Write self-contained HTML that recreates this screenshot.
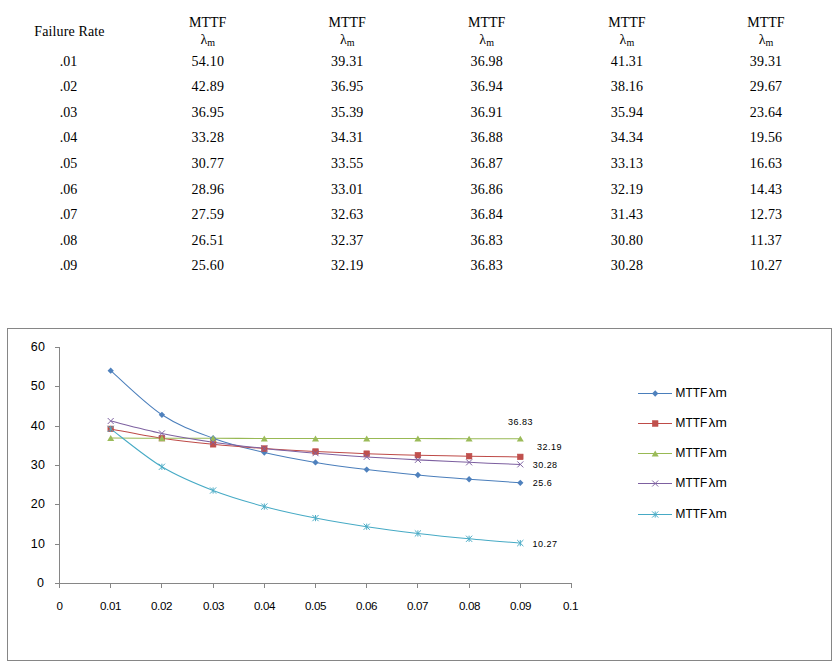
<!DOCTYPE html>
<html><head><meta charset="utf-8"><style>
html,body{margin:0;padding:0;background:#fff;}
body{width:837px;height:667px;position:relative;overflow:hidden;}
.c{position:absolute;width:139.45px;text-align:center;font-family:"Liberation Serif",serif;font-size:14px;line-height:14px;color:#000;white-space:nowrap;}
.n{letter-spacing:0.2px;}
.sub{font-size:10px;position:relative;top:2px;}
svg{position:absolute;left:0;top:0;}
.ay{font-family:"Liberation Sans",sans-serif;font-size:12.5px;fill:#000;letter-spacing:0.3px;}
.ax{font-family:"Liberation Sans",sans-serif;font-size:11.6px;fill:#000;letter-spacing:-0.45px;}
.dl{font-family:"Liberation Sans",sans-serif;font-size:9px;letter-spacing:0.45px;fill:#000;}
.lg{font-family:"Liberation Sans",sans-serif;font-size:13px;fill:#000;}
</style></head><body>
<div class="c" style="left:-0.22px;top:24.57px"><span style="letter-spacing:0.12px">Failure Rate</span></div>
<div class="c" style="left:138.03px;top:15.57px">MTTF</div>
<div class="c" style="left:138.03px;top:32.77px">&lambda;<span class="sub">m</span></div>
<div class="c" style="left:277.48px;top:15.57px">MTTF</div>
<div class="c" style="left:277.48px;top:32.77px">&lambda;<span class="sub">m</span></div>
<div class="c" style="left:416.92px;top:15.57px">MTTF</div>
<div class="c" style="left:416.92px;top:32.77px">&lambda;<span class="sub">m</span></div>
<div class="c" style="left:557.17px;top:15.57px">MTTF</div>
<div class="c" style="left:557.17px;top:32.77px">&lambda;<span class="sub">m</span></div>
<div class="c" style="left:696.22px;top:15.57px">MTTF</div>
<div class="c" style="left:696.22px;top:32.77px">&lambda;<span class="sub">m</span></div>
<div class="c" style="left:-1.22px;top:55.07px">.01</div>
<div class="c" style="left:138.12px;top:55.07px"><span class="n">54.10</span></div>
<div class="c" style="left:277.58px;top:55.07px"><span class="n">39.31</span></div>
<div class="c" style="left:417.02px;top:55.07px"><span class="n">36.98</span></div>
<div class="c" style="left:557.27px;top:55.07px"><span class="n">41.31</span></div>
<div class="c" style="left:696.32px;top:55.07px"><span class="n">39.31</span></div>
<div class="c" style="left:-1.22px;top:80.07px">.02</div>
<div class="c" style="left:138.12px;top:80.07px"><span class="n">42.89</span></div>
<div class="c" style="left:277.58px;top:80.07px"><span class="n">36.95</span></div>
<div class="c" style="left:417.02px;top:80.07px"><span class="n">36.94</span></div>
<div class="c" style="left:557.27px;top:80.07px"><span class="n">38.16</span></div>
<div class="c" style="left:696.32px;top:80.07px"><span class="n">29.67</span></div>
<div class="c" style="left:-1.22px;top:106.07px">.03</div>
<div class="c" style="left:138.12px;top:106.07px"><span class="n">36.95</span></div>
<div class="c" style="left:277.58px;top:106.07px"><span class="n">35.39</span></div>
<div class="c" style="left:417.02px;top:106.07px"><span class="n">36.91</span></div>
<div class="c" style="left:557.27px;top:106.07px"><span class="n">35.94</span></div>
<div class="c" style="left:696.32px;top:106.07px"><span class="n">23.64</span></div>
<div class="c" style="left:-1.22px;top:131.07px">.04</div>
<div class="c" style="left:138.12px;top:131.07px"><span class="n">33.28</span></div>
<div class="c" style="left:277.58px;top:131.07px"><span class="n">34.31</span></div>
<div class="c" style="left:417.02px;top:131.07px"><span class="n">36.88</span></div>
<div class="c" style="left:557.27px;top:131.07px"><span class="n">34.34</span></div>
<div class="c" style="left:696.32px;top:131.07px"><span class="n">19.56</span></div>
<div class="c" style="left:-1.22px;top:157.07px">.05</div>
<div class="c" style="left:138.12px;top:157.07px"><span class="n">30.77</span></div>
<div class="c" style="left:277.58px;top:157.07px"><span class="n">33.55</span></div>
<div class="c" style="left:417.02px;top:157.07px"><span class="n">36.87</span></div>
<div class="c" style="left:557.27px;top:157.07px"><span class="n">33.13</span></div>
<div class="c" style="left:696.32px;top:157.07px"><span class="n">16.63</span></div>
<div class="c" style="left:-1.22px;top:183.07px">.06</div>
<div class="c" style="left:138.12px;top:183.07px"><span class="n">28.96</span></div>
<div class="c" style="left:277.58px;top:183.07px"><span class="n">33.01</span></div>
<div class="c" style="left:417.02px;top:183.07px"><span class="n">36.86</span></div>
<div class="c" style="left:557.27px;top:183.07px"><span class="n">32.19</span></div>
<div class="c" style="left:696.32px;top:183.07px"><span class="n">14.43</span></div>
<div class="c" style="left:-1.22px;top:208.07px">.07</div>
<div class="c" style="left:138.12px;top:208.07px"><span class="n">27.59</span></div>
<div class="c" style="left:277.58px;top:208.07px"><span class="n">32.63</span></div>
<div class="c" style="left:417.02px;top:208.07px"><span class="n">36.84</span></div>
<div class="c" style="left:557.27px;top:208.07px"><span class="n">31.43</span></div>
<div class="c" style="left:696.32px;top:208.07px"><span class="n">12.73</span></div>
<div class="c" style="left:-1.22px;top:234.07px">.08</div>
<div class="c" style="left:138.12px;top:234.07px"><span class="n">26.51</span></div>
<div class="c" style="left:277.58px;top:234.07px"><span class="n">32.37</span></div>
<div class="c" style="left:417.02px;top:234.07px"><span class="n">36.83</span></div>
<div class="c" style="left:557.27px;top:234.07px"><span class="n">30.80</span></div>
<div class="c" style="left:696.32px;top:234.07px"><span class="n">11.37</span></div>
<div class="c" style="left:-1.22px;top:259.07px">.09</div>
<div class="c" style="left:138.12px;top:259.07px"><span class="n">25.60</span></div>
<div class="c" style="left:277.58px;top:259.07px"><span class="n">32.19</span></div>
<div class="c" style="left:417.02px;top:259.07px"><span class="n">36.83</span></div>
<div class="c" style="left:557.27px;top:259.07px"><span class="n">30.28</span></div>
<div class="c" style="left:696.32px;top:259.07px"><span class="n">10.27</span></div>
<svg width="837" height="667" viewBox="0 0 837 667">
<rect x="7.5" y="328.5" width="824" height="332" fill="#fff" stroke="#868686" stroke-width="1"/>
<path d="M59.5,347 V583.5 M59,583.5 H572" stroke="#868686" stroke-width="1" fill="none"/>
<path d="M55,583.5 H59" stroke="#868686" stroke-width="1"/>
<text x="44.3" y="587.2" class="ay" text-anchor="end">0</text>
<path d="M55,544.5 H59" stroke="#868686" stroke-width="1"/>
<text x="45.3" y="548.2" class="ay" text-anchor="end">10</text>
<path d="M55,504.5 H59" stroke="#868686" stroke-width="1"/>
<text x="45.3" y="508.2" class="ay" text-anchor="end">20</text>
<path d="M55,465.5 H59" stroke="#868686" stroke-width="1"/>
<text x="45.3" y="469.2" class="ay" text-anchor="end">30</text>
<path d="M55,426.5 H59" stroke="#868686" stroke-width="1"/>
<text x="45.3" y="430.2" class="ay" text-anchor="end">40</text>
<path d="M55,386.5 H59" stroke="#868686" stroke-width="1"/>
<text x="45.3" y="390.2" class="ay" text-anchor="end">50</text>
<path d="M55,347.5 H59" stroke="#868686" stroke-width="1"/>
<text x="45.3" y="351.2" class="ay" text-anchor="end">60</text>
<path d="M59.5,584 V588" stroke="#868686" stroke-width="1"/>
<text x="59.5" y="610.2" class="ax" text-anchor="middle">0</text>
<path d="M110.5,584 V588" stroke="#868686" stroke-width="1"/>
<text x="110.5" y="610.2" class="ax" text-anchor="middle">0.01</text>
<path d="M161.5,584 V588" stroke="#868686" stroke-width="1"/>
<text x="161.5" y="610.2" class="ax" text-anchor="middle">0.02</text>
<path d="M213.5,584 V588" stroke="#868686" stroke-width="1"/>
<text x="213.5" y="610.2" class="ax" text-anchor="middle">0.03</text>
<path d="M264.5,584 V588" stroke="#868686" stroke-width="1"/>
<text x="264.5" y="610.2" class="ax" text-anchor="middle">0.04</text>
<path d="M315.5,584 V588" stroke="#868686" stroke-width="1"/>
<text x="315.5" y="610.2" class="ax" text-anchor="middle">0.05</text>
<path d="M366.5,584 V588" stroke="#868686" stroke-width="1"/>
<text x="366.5" y="610.2" class="ax" text-anchor="middle">0.06</text>
<path d="M417.5,584 V588" stroke="#868686" stroke-width="1"/>
<text x="417.5" y="610.2" class="ax" text-anchor="middle">0.07</text>
<path d="M469.5,584 V588" stroke="#868686" stroke-width="1"/>
<text x="469.5" y="610.2" class="ax" text-anchor="middle">0.08</text>
<path d="M520.5,584 V588" stroke="#868686" stroke-width="1"/>
<text x="520.5" y="610.2" class="ax" text-anchor="middle">0.09</text>
<path d="M571.5,584 V588" stroke="#868686" stroke-width="1"/>
<text x="570.5" y="610.2" class="ax" text-anchor="middle">0.1</text>
<path d="M110.70,370.71 C119.23,378.06 144.83,403.56 161.90,414.80 C178.97,426.04 196.03,431.86 213.10,438.16 C230.17,444.46 247.23,448.55 264.30,452.60 C281.37,456.65 298.43,459.64 315.50,462.47 C332.57,465.30 349.63,467.51 366.70,469.59 C383.77,471.68 400.83,473.37 417.90,474.98 C434.97,476.59 452.03,477.92 469.10,479.23 C486.17,480.53 511.77,482.21 520.30,482.81" fill="none" stroke="#4A7EBB" stroke-width="1.02"/>
<path d="M110.70,428.88 C119.23,430.43 144.83,435.59 161.90,438.16 C178.97,440.73 196.03,442.57 213.10,444.30 C230.17,446.03 247.23,447.34 264.30,448.55 C281.37,449.75 298.43,450.68 315.50,451.54 C332.57,452.39 349.63,453.06 366.70,453.66 C383.77,454.26 400.83,454.74 417.90,455.16 C434.97,455.57 452.03,455.89 469.10,456.18 C486.17,456.47 511.77,456.77 520.30,456.89" fill="none" stroke="#BE4B48" stroke-width="1.02"/>
<path d="M110.70,438.05 C119.23,438.07 144.83,438.16 161.90,438.20 C178.97,438.25 196.03,438.28 213.10,438.32 C230.17,438.36 247.23,438.41 264.30,438.44 C281.37,438.46 298.43,438.46 315.50,438.48 C332.57,438.49 349.63,438.50 366.70,438.52 C383.77,438.54 400.83,438.58 417.90,438.60 C434.97,438.62 452.03,438.63 469.10,438.64 C486.17,438.64 511.77,438.64 520.30,438.64" fill="none" stroke="#98B954" stroke-width="1.02"/>
<path d="M110.70,421.01 C119.23,423.08 144.83,429.88 161.90,433.40 C178.97,436.92 196.03,439.63 213.10,442.14 C230.17,444.64 247.23,446.59 264.30,448.43 C281.37,450.27 298.43,451.78 315.50,453.19 C332.57,454.60 349.63,455.77 366.70,456.89 C383.77,458.00 400.83,458.96 417.90,459.88 C434.97,460.79 452.03,461.60 469.10,462.35 C486.17,463.11 511.77,464.06 520.30,464.40" fill="none" stroke="#7D60A0" stroke-width="1.02"/>
<path d="M110.70,428.88 C119.23,435.20 144.83,456.53 161.90,466.80 C178.97,477.07 196.03,483.89 213.10,490.52 C230.17,497.14 247.23,501.97 264.30,506.56 C281.37,511.16 298.43,514.73 315.50,518.09 C332.57,521.45 349.63,524.19 366.70,526.74 C383.77,529.30 400.83,531.42 417.90,533.43 C434.97,535.43 452.03,537.17 469.10,538.78 C486.17,540.39 511.77,542.38 520.30,543.10" fill="none" stroke="#46AAC5" stroke-width="1.02"/>
<path d="M110.70,367.56 L113.85,370.71 L110.70,373.86 L107.55,370.71 Z" fill="#4F81BD"/>
<path d="M161.90,411.65 L165.05,414.80 L161.90,417.95 L158.75,414.80 Z" fill="#4F81BD"/>
<path d="M213.10,435.01 L216.25,438.16 L213.10,441.31 L209.95,438.16 Z" fill="#4F81BD"/>
<path d="M264.30,449.45 L267.45,452.60 L264.30,455.75 L261.15,452.60 Z" fill="#4F81BD"/>
<path d="M315.50,459.32 L318.65,462.47 L315.50,465.62 L312.35,462.47 Z" fill="#4F81BD"/>
<path d="M366.70,466.44 L369.85,469.59 L366.70,472.74 L363.55,469.59 Z" fill="#4F81BD"/>
<path d="M417.90,471.83 L421.05,474.98 L417.90,478.13 L414.75,474.98 Z" fill="#4F81BD"/>
<path d="M469.10,476.08 L472.25,479.23 L469.10,482.38 L465.95,479.23 Z" fill="#4F81BD"/>
<path d="M520.30,479.66 L523.45,482.81 L520.30,485.96 L517.15,482.81 Z" fill="#4F81BD"/>
<rect x="107.90" y="426.08" width="5.60" height="5.60" fill="#C0504D" stroke="#BE4B48" stroke-width="0.6"/>
<rect x="159.10" y="435.36" width="5.60" height="5.60" fill="#C0504D" stroke="#BE4B48" stroke-width="0.6"/>
<rect x="210.30" y="441.50" width="5.60" height="5.60" fill="#C0504D" stroke="#BE4B48" stroke-width="0.6"/>
<rect x="261.50" y="445.75" width="5.60" height="5.60" fill="#C0504D" stroke="#BE4B48" stroke-width="0.6"/>
<rect x="312.70" y="448.74" width="5.60" height="5.60" fill="#C0504D" stroke="#BE4B48" stroke-width="0.6"/>
<rect x="363.90" y="450.86" width="5.60" height="5.60" fill="#C0504D" stroke="#BE4B48" stroke-width="0.6"/>
<rect x="415.10" y="452.36" width="5.60" height="5.60" fill="#C0504D" stroke="#BE4B48" stroke-width="0.6"/>
<rect x="466.30" y="453.38" width="5.60" height="5.60" fill="#C0504D" stroke="#BE4B48" stroke-width="0.6"/>
<rect x="517.50" y="454.09" width="5.60" height="5.60" fill="#C0504D" stroke="#BE4B48" stroke-width="0.6"/>
<path d="M110.70,435.07 L114.20,441.02 L107.20,441.02 Z" fill="#9BBB59"/>
<path d="M161.90,435.23 L165.40,441.18 L158.40,441.18 Z" fill="#9BBB59"/>
<path d="M213.10,435.35 L216.60,441.30 L209.60,441.30 Z" fill="#9BBB59"/>
<path d="M264.30,435.46 L267.80,441.41 L260.80,441.41 Z" fill="#9BBB59"/>
<path d="M315.50,435.50 L319.00,441.45 L312.00,441.45 Z" fill="#9BBB59"/>
<path d="M366.70,435.54 L370.20,441.49 L363.20,441.49 Z" fill="#9BBB59"/>
<path d="M417.90,435.62 L421.40,441.57 L414.40,441.57 Z" fill="#9BBB59"/>
<path d="M469.10,435.66 L472.60,441.61 L465.60,441.61 Z" fill="#9BBB59"/>
<path d="M520.30,435.66 L523.80,441.61 L516.80,441.61 Z" fill="#9BBB59"/>
<path d="M107.70,418.01 L113.70,424.01 M107.70,424.01 L113.70,418.01" stroke="#8064A2" stroke-width="1" fill="none"/>
<path d="M158.90,430.40 L164.90,436.40 M158.90,436.40 L164.90,430.40" stroke="#8064A2" stroke-width="1" fill="none"/>
<path d="M210.10,439.14 L216.10,445.14 M210.10,445.14 L216.10,439.14" stroke="#8064A2" stroke-width="1" fill="none"/>
<path d="M261.30,445.43 L267.30,451.43 M261.30,451.43 L267.30,445.43" stroke="#8064A2" stroke-width="1" fill="none"/>
<path d="M312.50,450.19 L318.50,456.19 M312.50,456.19 L318.50,450.19" stroke="#8064A2" stroke-width="1" fill="none"/>
<path d="M363.70,453.89 L369.70,459.89 M363.70,459.89 L369.70,453.89" stroke="#8064A2" stroke-width="1" fill="none"/>
<path d="M414.90,456.88 L420.90,462.88 M414.90,462.88 L420.90,456.88" stroke="#8064A2" stroke-width="1" fill="none"/>
<path d="M466.10,459.35 L472.10,465.35 M466.10,465.35 L472.10,459.35" stroke="#8064A2" stroke-width="1" fill="none"/>
<path d="M517.30,461.40 L523.30,467.40 M517.30,467.40 L523.30,461.40" stroke="#8064A2" stroke-width="1" fill="none"/>
<path d="M107.60,425.78 L113.80,431.98 M107.60,431.98 L113.80,425.78 M110.70,425.78 L110.70,431.98" stroke="#4BACC6" stroke-width="1" fill="none"/>
<path d="M158.80,463.70 L165.00,469.90 M158.80,469.90 L165.00,463.70 M161.90,463.70 L161.90,469.90" stroke="#4BACC6" stroke-width="1" fill="none"/>
<path d="M210.00,487.42 L216.20,493.62 M210.00,493.62 L216.20,487.42 M213.10,487.42 L213.10,493.62" stroke="#4BACC6" stroke-width="1" fill="none"/>
<path d="M261.20,503.46 L267.40,509.66 M261.20,509.66 L267.40,503.46 M264.30,503.46 L264.30,509.66" stroke="#4BACC6" stroke-width="1" fill="none"/>
<path d="M312.40,514.99 L318.60,521.19 M312.40,521.19 L318.60,514.99 M315.50,514.99 L315.50,521.19" stroke="#4BACC6" stroke-width="1" fill="none"/>
<path d="M363.60,523.64 L369.80,529.84 M363.60,529.84 L369.80,523.64 M366.70,523.64 L366.70,529.84" stroke="#4BACC6" stroke-width="1" fill="none"/>
<path d="M414.80,530.33 L421.00,536.53 M414.80,536.53 L421.00,530.33 M417.90,530.33 L417.90,536.53" stroke="#4BACC6" stroke-width="1" fill="none"/>
<path d="M466.00,535.68 L472.20,541.88 M466.00,541.88 L472.20,535.68 M469.10,535.68 L469.10,541.88" stroke="#4BACC6" stroke-width="1" fill="none"/>
<path d="M517.20,540.00 L523.40,546.20 M517.20,546.20 L523.40,540.00 M520.30,540.00 L520.30,546.20" stroke="#4BACC6" stroke-width="1" fill="none"/>
<text x="520.5" y="424.8" class="dl" text-anchor="middle">36.83</text>
<text x="549.5" y="449.8" class="dl" text-anchor="middle">32.19</text>
<text x="545.2" y="467.8" class="dl" text-anchor="middle">30.28</text>
<text x="542.5" y="485.8" class="dl" text-anchor="middle">25.6</text>
<text x="545.0" y="546.8" class="dl" text-anchor="middle">10.27</text>
<path d="M638,393.5 H672" stroke="#4A7EBB" stroke-width="1"/>
<path d="M655.20,390.35 L658.35,393.50 L655.20,396.65 L652.05,393.50 Z" fill="#4F81BD"/>
<text x="675.6" y="397.3" class="lg" textLength="31.6" lengthAdjust="spacingAndGlyphs">MTTF</text>
<text x="708.6" y="397.3" class="lg" textLength="18.2" lengthAdjust="spacingAndGlyphs">&lambda;m</text>
<path d="M638,423.5 H672" stroke="#BE4B48" stroke-width="1"/>
<rect x="652.40" y="420.70" width="5.60" height="5.60" fill="#C0504D" stroke="#BE4B48" stroke-width="0.6"/>
<text x="675.6" y="427.3" class="lg" textLength="31.6" lengthAdjust="spacingAndGlyphs">MTTF</text>
<text x="708.6" y="427.3" class="lg" textLength="18.2" lengthAdjust="spacingAndGlyphs">&lambda;m</text>
<path d="M638,453.5 H672" stroke="#98B954" stroke-width="1"/>
<path d="M655.20,450.52 L658.70,456.48 L651.70,456.48 Z" fill="#9BBB59"/>
<text x="675.6" y="457.3" class="lg" textLength="31.6" lengthAdjust="spacingAndGlyphs">MTTF</text>
<text x="708.6" y="457.3" class="lg" textLength="18.2" lengthAdjust="spacingAndGlyphs">&lambda;m</text>
<path d="M638,483.5 H672" stroke="#7D60A0" stroke-width="1"/>
<path d="M652.20,480.50 L658.20,486.50 M652.20,486.50 L658.20,480.50" stroke="#8064A2" stroke-width="1" fill="none"/>
<text x="675.6" y="487.3" class="lg" textLength="31.6" lengthAdjust="spacingAndGlyphs">MTTF</text>
<text x="708.6" y="487.3" class="lg" textLength="18.2" lengthAdjust="spacingAndGlyphs">&lambda;m</text>
<path d="M638,514.5 H672" stroke="#46AAC5" stroke-width="1"/>
<path d="M652.10,511.40 L658.30,517.60 M652.10,517.60 L658.30,511.40 M655.20,511.40 L655.20,517.60" stroke="#4BACC6" stroke-width="1" fill="none"/>
<text x="675.6" y="518.3" class="lg" textLength="31.6" lengthAdjust="spacingAndGlyphs">MTTF</text>
<text x="708.6" y="518.3" class="lg" textLength="18.2" lengthAdjust="spacingAndGlyphs">&lambda;m</text>
</svg>
</body></html>
